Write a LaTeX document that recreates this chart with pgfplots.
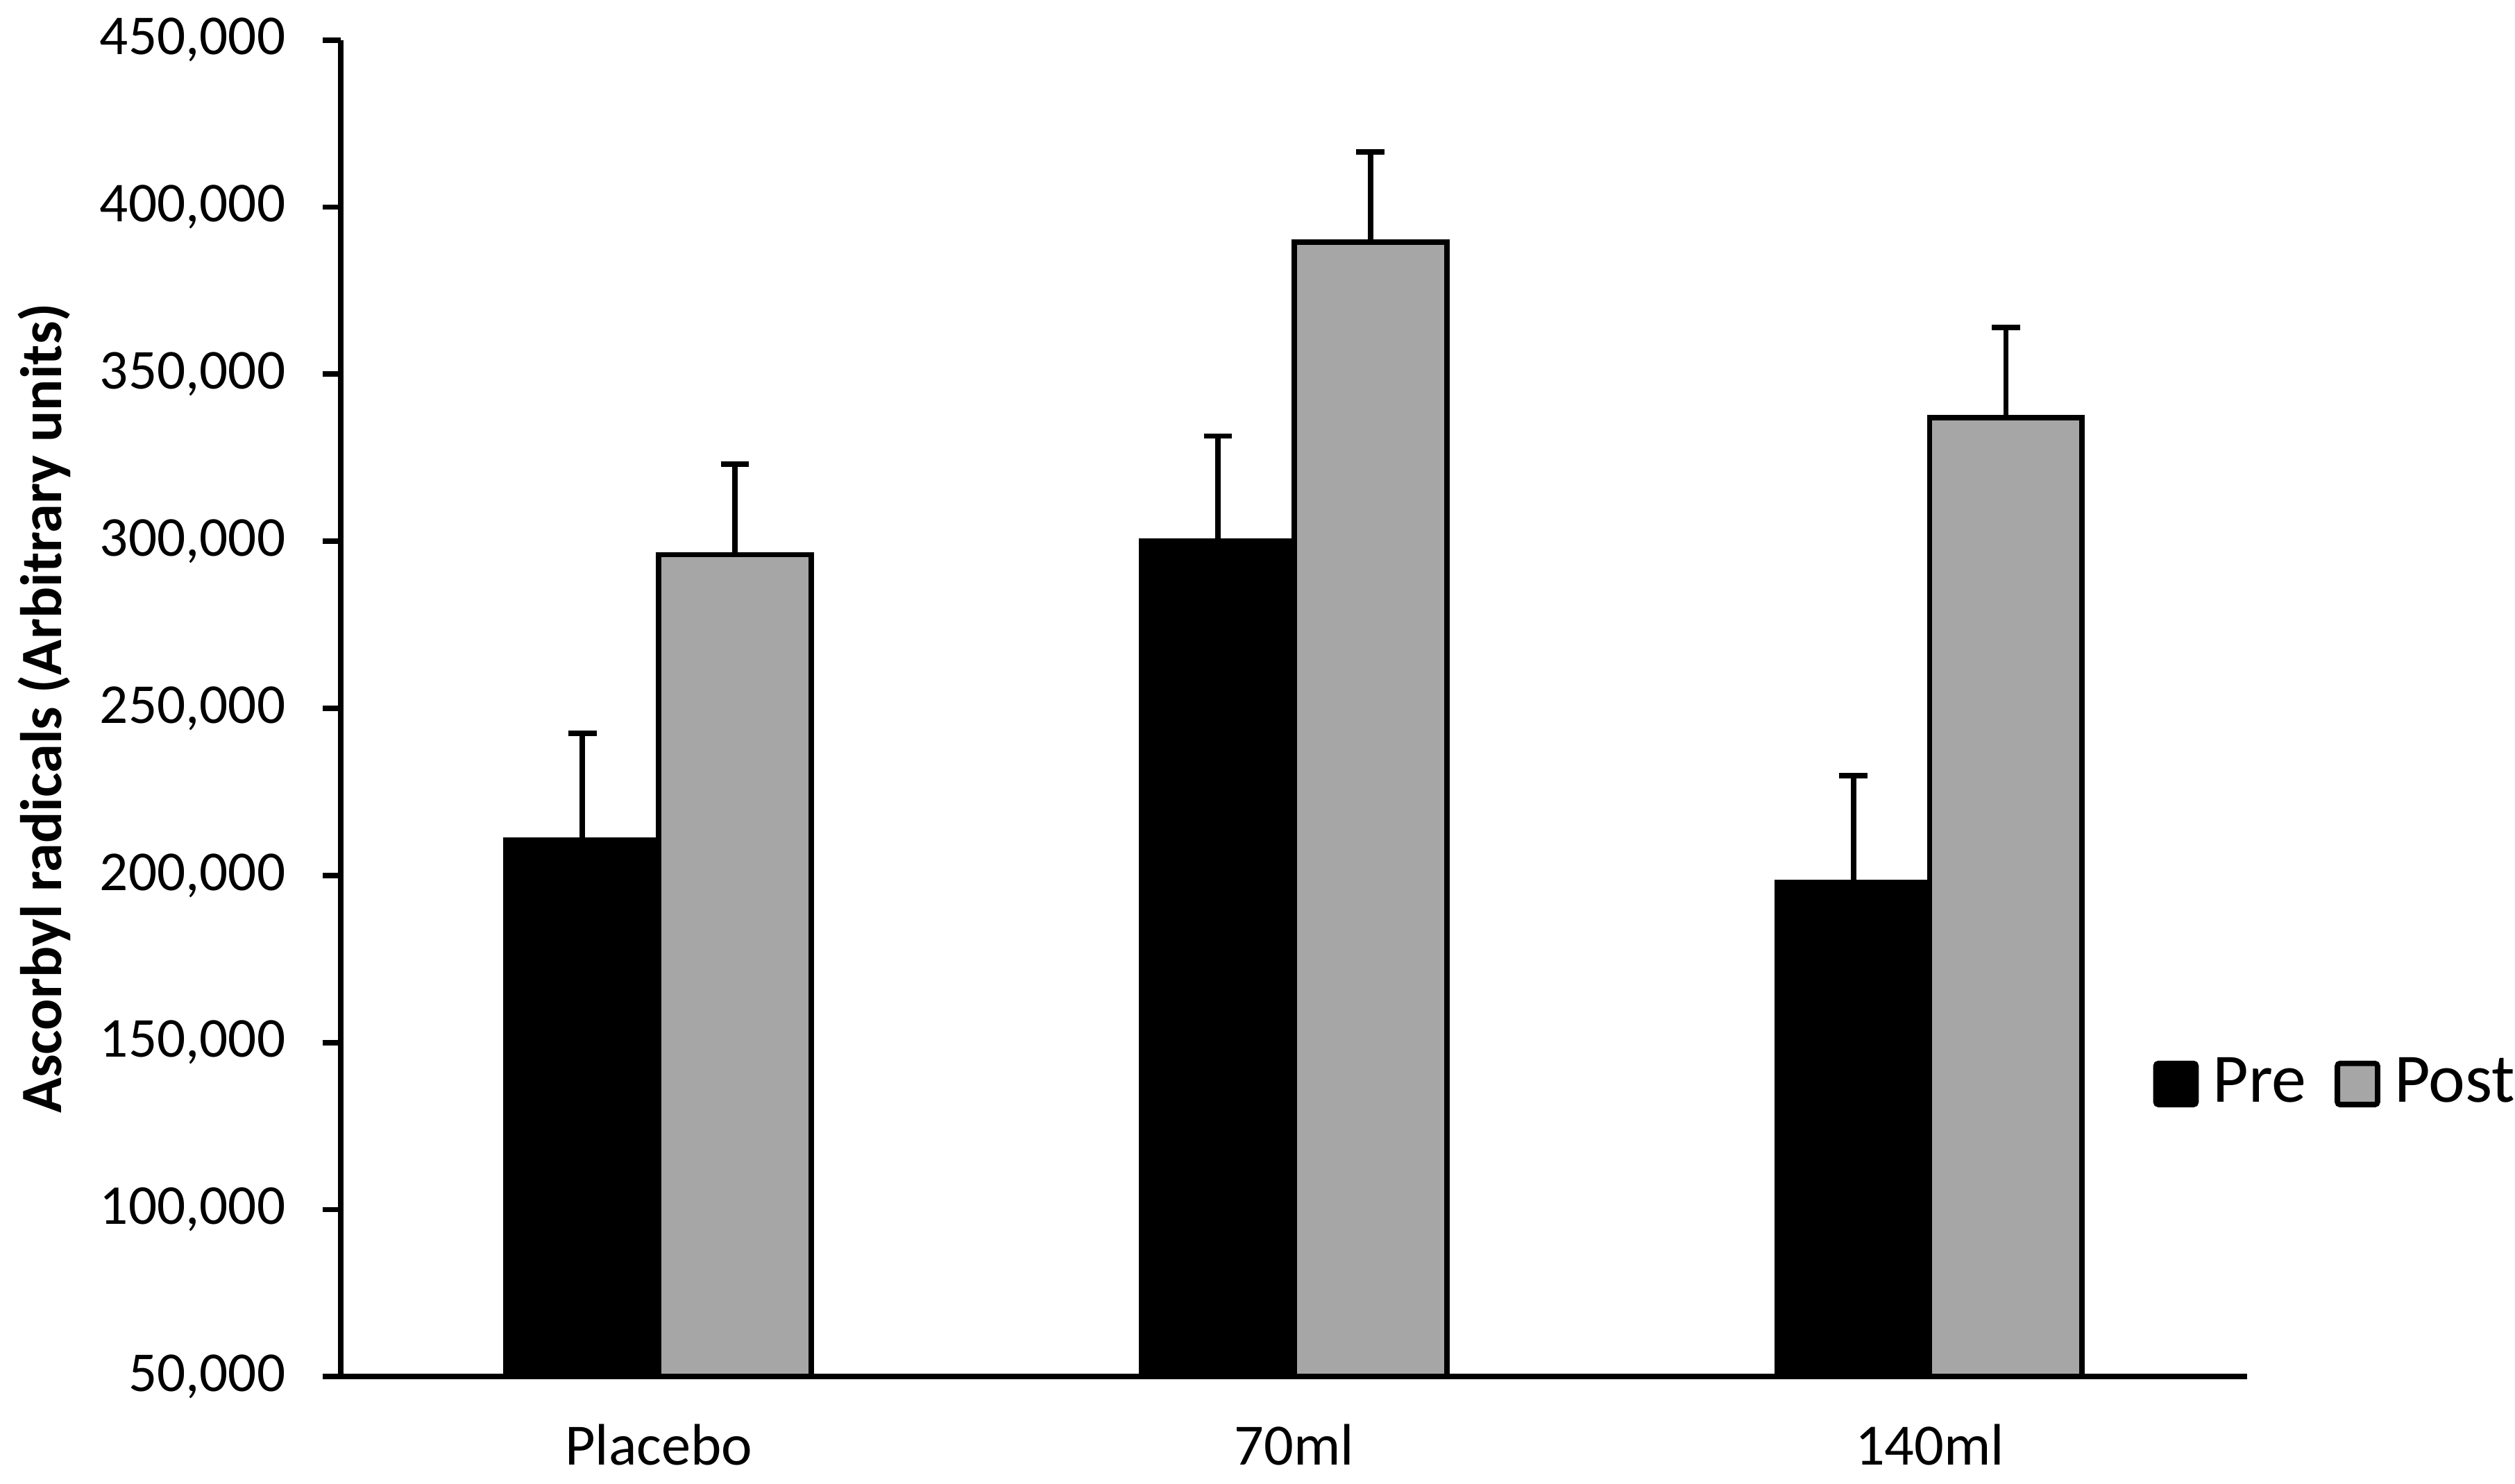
\documentclass[border=0pt]{standalone}
\usepackage{fontspec}
\setmainfont{Carlito}
\usepackage{pgfplots}
\pgfplotsset{compat=1.18}
\usepackage{pgfplotstable}

% group, value, error (upper only)
\pgfplotstableread{
x val err
0 210500 32000
1 300000 31500
2 198000 31800
}\pre
\pgfplotstableread{
x val err
0 296000 27000
1 389500 27000
2 337000 27000
}\post

\definecolor{postgray}{HTML}{A6A6A6}

\begin{document}
\begin{tikzpicture}
\begin{axis}[
  width=351.6pt, height=246.6pt, scale only axis,
  ybar, bar width=0.24,
  xmin=-0.5, xmax=2.5,
  ymin=50000, ymax=450000,
  scaled y ticks=false,
  ytick={50000,100000,150000,200000,250000,300000,350000,400000,450000},
  yticklabels={{50,000},{100,000},{150,000},{200,000},{250,000},{300,000},{350,000},{400,000},{450,000}},
  xtick={0,1,2}, xticklabels={Placebo,70ml,140ml},
  axis x line*=bottom, axis y line*=left,
  axis line style={line width=1pt, -},
  x tick style={draw=none},
  y tick style={line width=1pt, black},
  tick align=outside, major tick length=3.3pt,
  yticklabel style={font=\fontsize{10.4}{12}\selectfont, xshift=-3.4pt},
  xticklabel style={font=\fontsize{10.8}{12}\selectfont, yshift=-2pt},
  ylabel={\bfseries Ascorbyl radicals (Arbitrary units)},
  ylabel style={font=\fontsize{10.8}{12}\selectfont, yshift=-1.5pt},
  legend style={at={(0.950,0.219)}, anchor=west, draw=none, fill=none,
    inner sep=0pt, nodes={inner sep=0pt}, cells={anchor=west},
    font=\fontsize{12.8}{15}\selectfont, legend columns=2,
    /tikz/every odd column/.append style={column sep=2.6pt},
    /tikz/every even column/.append style={column sep=5.2pt}},
  legend image code/.code={\draw[#1, line width=1pt, rounded corners=0.5pt] (0pt,-3.8pt) rectangle (7.4pt,3.8pt);},
  error bars/y dir=plus, error bars/y explicit,
  error bars/error bar style={line width=1pt, black},
  error bars/error mark options={rotate=90, mark size=2.6pt, line width=1pt, black},
]
\addplot[fill=black, draw=black, line width=1pt, bar shift=-0.12]
  table[x=x, y=val, y error=err] {\pre};
\addplot[fill=postgray, draw=black, line width=1pt, bar shift=0.12]
  table[x=x, y=val, y error=err] {\post};
\legend{Pre, Post}
% page margins as in the reference
\path ([xshift=-62.6pt,yshift=-20.4pt]rel axis cs:0,0) ([xshift=56.2pt,yshift=7.2pt]rel axis cs:1,1);
\end{axis}
\end{tikzpicture}
\end{document}
